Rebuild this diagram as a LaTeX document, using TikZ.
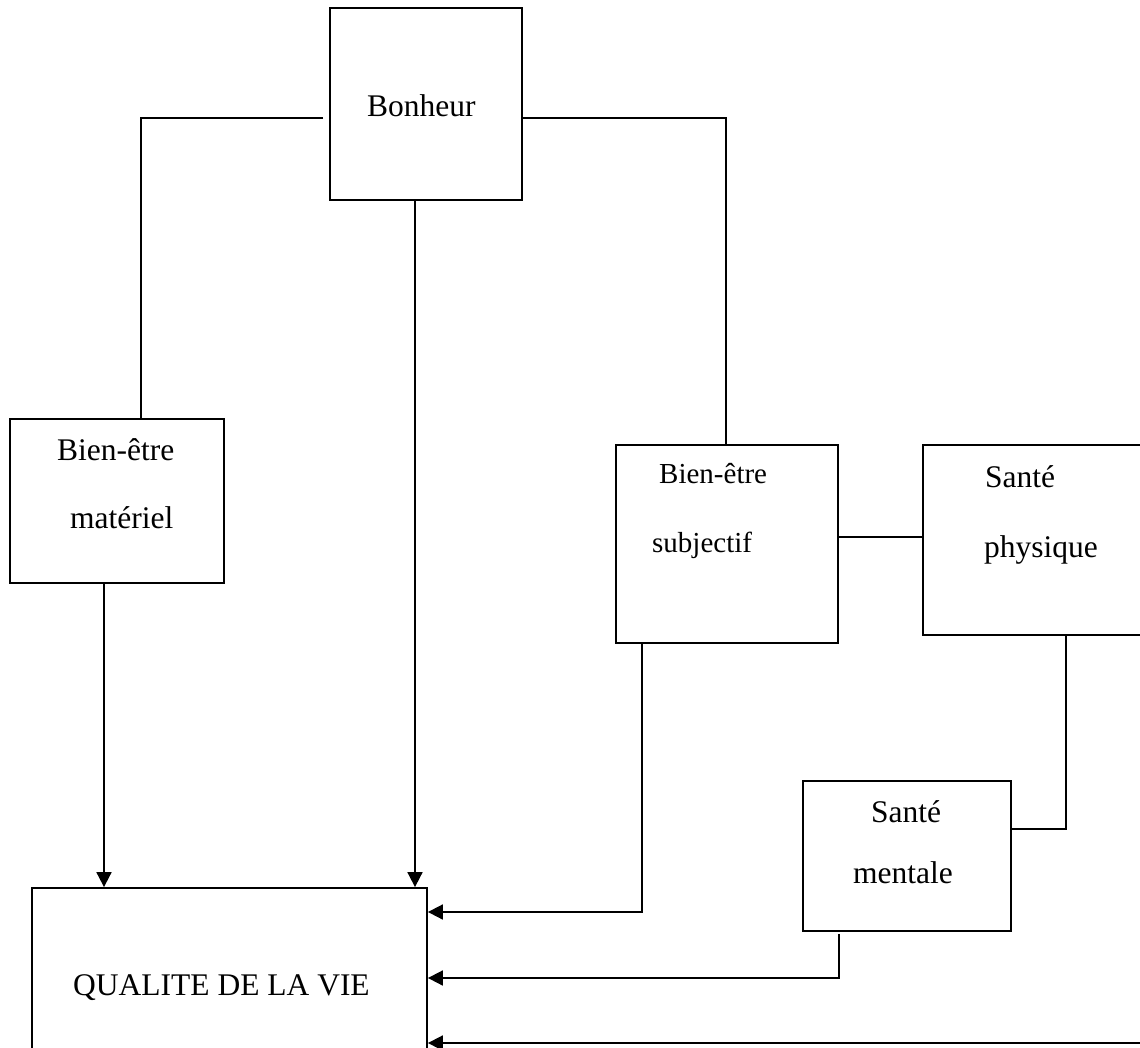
\documentclass[tikz,border=0pt]{standalone}
\usepackage{fontspec}
\setmainfont{Liberation Serif}
\usetikzlibrary{arrows.meta}
\tikzset{
  box/.style={draw, line width=1.8pt, rectangle, inner sep=0pt},
  lbl/.style={anchor=base west, inner sep=0pt, font=\fontsize{31.5}{36}\selectfont},
  lbls/.style={anchor=base west, inner sep=0pt, font=\fontsize{29}{34}\selectfont},
  conn/.style={line width=1.8pt},
  arr/.style={line width=1.8pt, -{Triangle[length=15pt,width=15pt]}}
}
\begin{document}
\begin{tikzpicture}[x=1pt,y=-1pt]
\useasboundingbox (0,0) rectangle (1140,1048);
\clip (0,0) rectangle (1140,1048);
% boxes
\node[box, minimum width=192pt, minimum height=192pt] (bon) at (426,104) {};
\node[box, minimum width=214pt, minimum height=164pt] (bem) at (117,501) {};
\node[box, minimum width=222pt, minimum height=198pt] (bes) at (727,544) {};
\node[box, minimum width=230pt, minimum height=190pt] (sph) at (1038,540) {};
\node[box, minimum width=208pt, minimum height=150pt] (sme) at (907,856) {};
\node[box, minimum width=395pt, minimum height=212pt] (qv) at (229.5,994) {};
% texts
\node[lbl] (tbon) at (367,117) {Bonheur};
\node[lbl] (tbem1) at (57,460) {Bien-être};
\node[lbl] (tbem2) at (70,528) {matériel};
\node[lbls] (tbes1) at (659,483) {Bien-être};
\node[lbls] (tbes2) at (652,552) {subjectif};
\node[lbl] (tsph1) at (985,487) {Santé};
\node[lbl] (tsph2) at (984,557) {physique};
\node[lbl] (tsme1) at (871,822) {Santé};
\node[lbl] (tsme2) at (853,883) {mentale};
\node[lbl] (tqv) at (73,995) {QUALITE DE LA VIE};
% helper coordinates
\coordinate (bonL) at (330,118);
\coordinate (bonR) at (522,118);
\coordinate (cornL) at (141,118);
\coordinate (cornR) at (726,118);
\coordinate (far) at (1145,1043);
% connectors
\draw[conn, shorten <=7pt] (bonL) -- (cornL) -- (cornL |- bem.north);
\draw[conn] (bonR) -- (cornR) -- (cornR |- bes.north);
\draw[arr] (bon.south -| 415,0) -- (qv.north -| 415,0);
\draw[arr] (bem.south -| 104,0) -- (qv.north -| 104,0);
\draw[arr] (bes.south -| 642,0) -- (642,912) -- (qv.east |- 0,912);
\draw[conn] (bes.east |- 0,537) -- (sph.west |- 0,537);
\draw[conn] (sph.south -| 1066,0) -- (1066,829) -- (sme.east |- 0,829);
\draw[arr, shorten <=2pt] (sme.south -| 839,0) -- (839,978) -- (qv.east |- 0,978);
\draw[arr] (far) -- (qv.east |- far);
\end{tikzpicture}
\end{document}
